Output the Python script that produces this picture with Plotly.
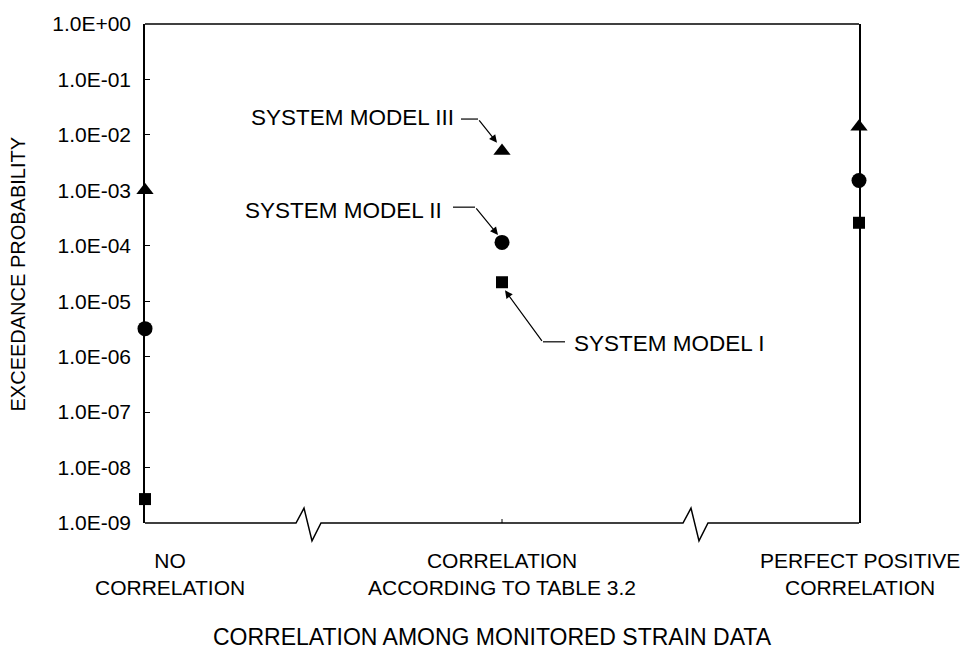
import plotly.graph_objects as go

# x positions of the three correlation cases
CASES = [0, 1, 2]
CASE_LABELS = ["NO<br>CORRELATION", "CORRELATION<br>ACCORDING TO TABLE 3.2",
               "PERFECT POSITIVE<br>CORRELATION"]

# exceedance probabilities
MODEL_I = [2.7e-9, 2.2e-5, 2.6e-4]
MODEL_II = [3.2e-6, 1.15e-4, 1.5e-3]
MODEL_III = [1.0e-3, 5.1e-3, 1.4e-2]

TICK_VALS = [10.0 ** -k for k in range(10)]
TICK_TEXT = ["1.0E+00"] + [f"1.0E-{k:02d}" for k in range(1, 10)]

FONT = "Liberation Sans, Arial, sans-serif"
BLACK = "#000000"

W, H = 972, 654
PL, PT, PR, PB = 145, 19, 859, 523   # plot box in pixels
PW, PH = PR - PL, PB - PT


def px(x):
    return (x - PL) / PW


def py(y):
    return 1 - (y - PT) / PH


fig = go.Figure()
for vals, sym, size in [(MODEL_III, "triangle-up", 15),
                        (MODEL_II, "circle", 15),
                        (MODEL_I, "square", 12)]:
    fig.add_trace(go.Scatter(
        x=CASES, y=vals, mode="markers", cliponaxis=False, showlegend=False,
        marker=dict(symbol=sym, size=size, color=BLACK, line=dict(width=0)),
    ))

shapes = []
# top border
shapes.append(dict(type="line", xref="paper", yref="paper", x0=0, x1=1, y0=1, y1=1,
                   line=dict(color=BLACK, width=1.5)))
# bottom axis with two break marks
brk = []
for xb in (296, 683):
    brk += [(xb, PB), (xb + 8, PB - 15), (xb + 16, PB + 18), (xb + 25, PB)]
pts = [(PL, PB)] + brk + [(PR, PB)]
path = "M " + " L ".join(f"{px(a):.4f},{py(b):.4f}" for a, b in pts)
shapes.append(dict(type="path", xref="paper", yref="paper", path=path,
                   line=dict(color=BLACK, width=1.5)))
# middle tick on the x axis
shapes.append(dict(type="line", xref="paper", yref="paper", x0=0.5, x1=0.5,
                   y0=0, y1=py(PB - 4), line=dict(color=BLACK, width=1)))

annotations = []


def label(size):
    return dict(font=dict(family=FONT, size=size, color=BLACK), showarrow=False,
                xref="paper", yref="paper")


# leader labels: text anchor, horizontal leg, arrow tail and tip
LEADERS = [
    ("SYSTEM MODEL III", "right", (456, 113), (461, 478, 115), (478, 115), (497, 139)),
    ("SYSTEM MODEL II", "right", (444, 207), (453, 475, 204), (475, 204), (498, 232)),
    ("SYSTEM MODEL I", "left", (572, 342), (543, 565, 340), (543, 340), (505, 288)),
]
for text, anchor, (tx, ty), (h0, h1, hy), (ax, ay), (hx, hy2) in LEADERS:
    annotations.append(dict(text=text, x=px(tx), y=py(ty), xanchor=anchor,
                            yanchor="middle", **label(22.5)))
    shapes.append(dict(type="line", xref="paper", yref="paper", x0=px(h0), x1=px(h1),
                       y0=py(hy), y1=py(hy), line=dict(color=BLACK, width=1.2)))
    annotations.append(dict(text="", x=px(hx), y=py(hy2), xref="paper", yref="paper",
                            showarrow=True, ax=ax - hx, ay=ay - hy2, arrowhead=2,
                            arrowsize=1.3, arrowwidth=1.2, arrowcolor=BLACK))

# category labels under the axis
for xc, lab in zip([170, 502, 860], CASE_LABELS):
    annotations.append(dict(text=lab, x=px(xc), y=py(547), xanchor="center",
                            yanchor="top", align="center", **label(21)))

annotations.append(dict(text="CORRELATION AMONG MONITORED STRAIN DATA",
                        x=px(492), y=py(638), xanchor="center", yanchor="middle",
                        **label(23)))
annotations.append(dict(text="EXCEEDANCE PROBABILITY", x=px(18), y=py(272),
                        textangle=-90, xanchor="center", yanchor="middle", **label(20)))

fig.update_layout(
    width=W, height=H,
    margin=dict(l=PL, r=W - PR, t=PT, b=H - PB),
    paper_bgcolor="white", plot_bgcolor="white",
    font=dict(family=FONT, size=21, color=BLACK),
    shapes=shapes, annotations=annotations,
    xaxis=dict(range=[0, 2], showgrid=False, zeroline=False, showline=False,
               showticklabels=False, ticks=""),
    yaxis=dict(type="log", range=[-9, 0], tickvals=TICK_VALS, ticktext=TICK_TEXT,
               showgrid=False, zeroline=False, showline=True, mirror=True,
               linecolor=BLACK, linewidth=1.5, ticks="inside", ticklen=5,
               tickcolor=BLACK, tickwidth=1, ticklabelstandoff=8,
               tickfont=dict(family=FONT, size=21, color=BLACK)),
)

# drop the default page margin so the figure fills the window exactly
fig.write_html("out.html", config={"displayModeBar": False},
               post_script="document.body.style.margin='0';")
